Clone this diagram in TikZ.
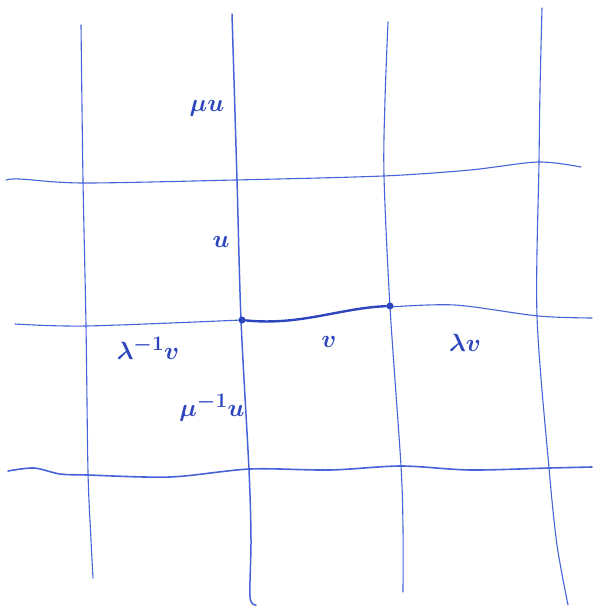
\documentclass[tikz,border=0pt]{standalone}
\definecolor{pen}{RGB}{70,100,215}
\definecolor{ink}{RGB}{45,70,190}
\begin{document}
\begin{tikzpicture}[x=1pt,y=-1pt,
  gridline/.style={draw=pen,line width=1.1pt,line cap=round},
  boldedge/.style={draw=ink,line width=2.4pt,line cap=round},
  vdot/.style={circle,fill=ink,inner sep=0pt,minimum size=7pt},
  lbl/.style={text=ink,font=\fontsize{28}{32}\selectfont\boldmath,inner sep=1pt}]
\useasboundingbox (0,0) rectangle (593,610);
% vertical lines
\draw[gridline] plot[smooth] coordinates {(81,25) (83,180) (86,325) (88,472) (91,540) (93,578)};
\draw[gridline, line width=1.5pt] plot[smooth] coordinates {(232,14) (237,180) (241,320) (249,470) (251,540) (250,597) (256,605)};
\draw[gridline] plot[smooth] coordinates {(388,22) (385,100) (384,176) (390,307) (401,466) (403,530) (403,592)};
\draw[gridline] plot[smooth] coordinates {(542,8) (540,90) (539,162) (537,316) (549,468) (557,545) (568,605)};
% horizontal lines
\draw[gridline] plot[smooth] coordinates {(6,180) (20,179) (83,183) (235,180) (383,176) (470,170) (538,162) (581,167)};
\draw[gridline] plot[smooth] coordinates {(15,324) (86,326) (242,320)};
\draw[gridline] plot[smooth] coordinates {(390,307) (455,305) (538,316) (592,318)};
\draw[gridline, line width=1.6pt] plot[smooth] coordinates {(8,471) (34,468) (60,474) (87,475) (170,477) (250,469) (330,470) (401,466) (470,470) (549,468) (592,467)};
% bold edge
\node[vdot] (p) at (242,320) {};
\node[vdot] (q) at (390,306) {};
\draw[boldedge] (p) .. controls (300,326) and (340,308) .. (q);
% labels
\node[lbl] (mu) at (207,108) {$\mu u$};
\node[lbl] (u) at (221,242) {$u$};
\node[lbl] (lv) at (148,348) {$\lambda^{-1}v$};
\node[lbl] (v) at (329,342) {$v$};
\node[lbl] (lamv) at (465,343) {$\lambda v$};
\node[lbl] (muu) at (212,408) {$\mu^{-1}u$};
\end{tikzpicture}
\end{document}
